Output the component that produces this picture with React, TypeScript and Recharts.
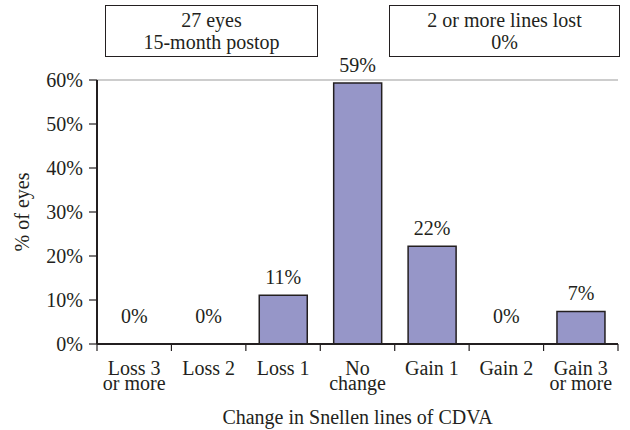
import React from 'react';
import { BarChart, Bar, XAxis, YAxis, LabelList, ReferenceLine } from 'recharts';

const categories = ['Loss 3\nor more', 'Loss 2', 'Loss 1', 'No\nchange', 'Gain 1', 'Gain 2', 'Gain 3\nor more'];
const percentEyes = [0, 0, 11.1, 59.3, 22.2, 0, 7.4];
const valueLabels = ['0%', '0%', '11%', '59%', '22%', '0%', '7%'];
const yTicks = [0, 10, 20, 30, 40, 50, 60];
const boxLeftLines = ['27 eyes', '15-month postop'];
const boxRightLines = ['2 or more lines lost', '0%'];
const xAxisTitle = 'Change in Snellen lines of CDVA';
const yAxisTitle = '% of eyes';

const data = categories.map((c, i) => ({ category: c, value: percentEyes[i], label: valueLabels[i] }));

const FONT = '"Liberation Serif", "DejaVu Serif", serif';
const TEXT = '#231f20';
const FS = 20;
const PLOT_LEFT = 97;
const PLOT_RIGHT = 618;
const BAND = (PLOT_RIGHT - PLOT_LEFT) / categories.length;

const XTick = (props: any) => {
  const { x, y, payload, index } = props;
  const lines = String(payload.value).split('\n');
  const half = BAND / 2;
  return (
    <g>
      <line x1={x - half} x2={x - half} y1={y} y2={y + 7} stroke={TEXT} strokeWidth={1.2} />
      {index === categories.length - 1 && (
        <line x1={x + half} x2={x + half} y1={y} y2={y + 7} stroke={TEXT} strokeWidth={1.2} />
      )}
      {percentEyes[index] === 0 && (
        <text x={x} y={y - 21} textAnchor="middle" fill={TEXT} fontSize={FS} fontFamily={FONT}>
          {valueLabels[index]}
        </text>
      )}
      {lines.map((l, i) => (
        <text key={i} x={x} y={y + 31 + i * 15} textAnchor="middle" fill={TEXT} fontSize={FS} fontFamily={FONT}>
          {l}
        </text>
      ))}
    </g>
  );
};

const BarLabel = (props: any) => {
  const { x, y, width, value } = props;
  return (
    <text x={x + width / 2} y={y - 11} textAnchor="middle" fill={TEXT} fontSize={FS} fontFamily={FONT}>
      {value}
    </text>
  );
};

const Box = ({ left, width, lines }: { left: number; width: number; lines: string[] }) => (
  <div
    style={{
      position: 'absolute',
      left,
      top: 5,
      width,
      height: 52,
      border: `1.5px solid ${TEXT}`,
      boxSizing: 'border-box',
      fontFamily: FONT,
      fontSize: FS,
      color: TEXT,
      textAlign: 'center',
      lineHeight: '22px',
      paddingTop: 3,
    }}
  >
    {lines.map((l, i) => (
      <div key={i}>{l}</div>
    ))}
  </div>
);

export default function App() {
  return (
    <div style={{ position: 'absolute', left: 0, top: 0, width: 630, height: 430, background: '#fff' }}>
      <BarChart
        width={630}
        height={430}
        data={data}
        margin={{ top: 80, right: 630 - PLOT_RIGHT, bottom: 36, left: PLOT_LEFT - 60 }}
        barCategoryGap="18%"
      >
        <ReferenceLine y={60} stroke="#bdbdbd" strokeWidth={1.5} />
        <XAxis
          dataKey="category"
          interval={0}
          tickSize={0}
          tickMargin={0}
          height={50}
          axisLine={{ stroke: TEXT, strokeWidth: 2 }}
          tickLine={false}
          tick={<XTick />}
          label={{ value: xAxisTitle, position: 'insideBottom', offset: -30, fill: TEXT, fontSize: FS, fontFamily: FONT }}
        />
        <YAxis
          width={60}
          domain={[0, 60]}
          ticks={yTicks}
          interval={0}
          tickFormatter={(v: number) => `${v}%`}
          tickSize={8}
          tickMargin={6}
          axisLine={{ stroke: TEXT, strokeWidth: 2 }}
          tickLine={{ stroke: TEXT, strokeWidth: 1.2 }}
          tick={{ fill: TEXT, fontSize: FS, fontFamily: FONT }}
          label={{ value: yAxisTitle, angle: -90, position: 'insideLeft', offset: -15, style: { textAnchor: 'middle' }, fill: TEXT, fontSize: FS, fontFamily: FONT }}
        />
        <YAxis
          yAxisId="right"
          orientation="right"
          width={0}
          domain={[0, 60]}
          tick={false}
          tickLine={false}
          axisLine={{ stroke: '#bdbdbd', strokeWidth: 1.5 }}
        />
        <Bar dataKey="value" fill="#9696c8" stroke={TEXT} strokeWidth={1.5} isAnimationActive={false}>
          <LabelList dataKey="label" content={<BarLabel />} />
        </Bar>
      </BarChart>
      <Box left={105} width={213} lines={boxLeftLines} />
      <Box left={389} width={231} lines={boxRightLines} />
    </div>
  );
}
